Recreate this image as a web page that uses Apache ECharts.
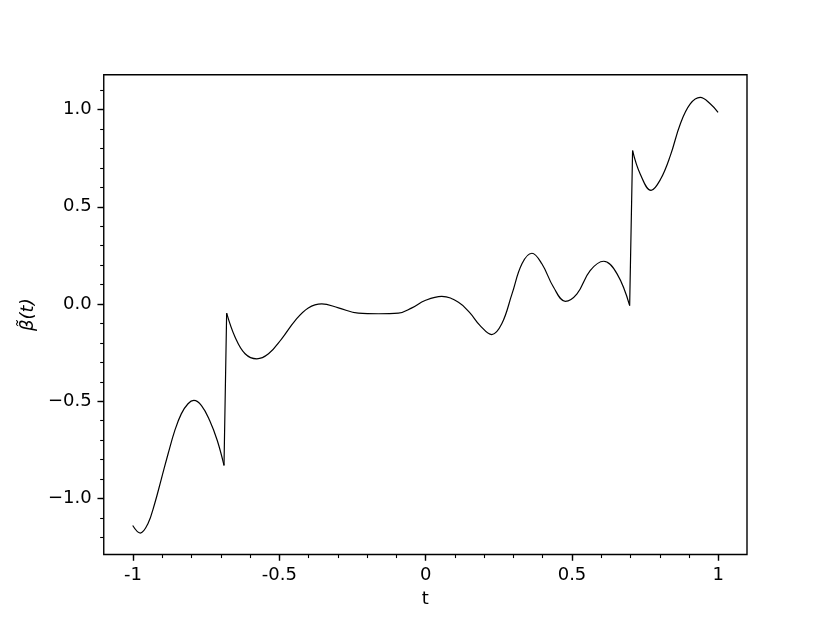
<!DOCTYPE html>
<html>
<head>
<meta charset="utf-8">
<script src="https://cdn.jsdelivr.net/npm/echarts@6/dist/echarts.min.js"></script>
<style>
html,body{margin:0;padding:0;background:#fff;}
#chart{width:830px;height:623px;}
</style>
</head>
<body>
<div id="chart"></div>
<script>
// t values
const tValues = [
  -1.001, -0.975, -0.949, -0.926, -0.903, -0.880, -0.857, -0.835, -0.812, -0.792,
  -0.766, -0.738, -0.712, -0.689, -0.680, -0.651, -0.617, -0.577, -0.537, -0.492,
  -0.446, -0.401, -0.355, -0.298, -0.230, -0.161, -0.093, -0.047, -0.002, 0.055,
  0.112, 0.152, 0.186, 0.226, 0.260, 0.295, 0.329, 0.363, 0.397, 0.437,
  0.477, 0.517, 0.562, 0.608, 0.654, 0.697, 0.707, 0.733, 0.770, 0.802,
  0.836, 0.870, 0.904, 0.938, 0.973, 0.999
];
// beta~(t) values
const betaValues = [
  -1.139, -1.178, -1.130, -1.027, -0.899, -0.770, -0.650, -0.565, -0.513, -0.496,
  -0.522, -0.599, -0.702, -0.830, -0.047, -0.171, -0.256, -0.282, -0.256, -0.179,
  -0.085, -0.020, 0.001, -0.020, -0.047, -0.050, -0.047, -0.020, 0.018, 0.039,
  0.009, -0.047, -0.111, -0.157, -0.102, 0.052, 0.207, 0.261, 0.207, 0.086,
  0.014, 0.052, 0.172, 0.220, 0.155, -0.008, 0.789, 0.669, 0.584, 0.640,
  0.763, 0.926, 1.029, 1.063, 1.029, 0.986
];
// indices where the curve jumps (last point before each jump)
const jumpIndices = [13, 45];

const xTickValues = [-1, -0.5, 0, 0.5, 1];
const xTickLabels = ['-1', '-0.5', '0', '0.5', '1'];
const yTickValues = [-1, -0.5, 0, 0.5, 1];
const yTickLabels = ['\u22121.0', '\u22120.5', '0.0', '0.5', '1.0'];
const xMinorTicks = [-1.0, -0.9, -0.8, -0.7, -0.6, -0.5, -0.4, -0.3, -0.2, -0.1, 0.0, 0.1, 0.2, 0.3, 0.4, 0.5, 0.6, 0.7, 0.8, 0.9, 1.0];
const yMinorTicks = [-1.2, -1.1, -1.0, -0.9, -0.8, -0.7, -0.6, -0.5, -0.4, -0.3, -0.2, -0.1, 0.0, 0.1, 0.2, 0.3, 0.4, 0.5, 0.6, 0.7, 0.8, 0.9, 1.0, 1.1];
const xTitle = 't';
const yTitle = 'β\u0303(t)';

const X_MIN = -1.0999, X_MAX = 1.0979;
const Y_MIN = -1.288, Y_MAX = 1.179;
const FONT = 'DejaVu Sans';

function labelFor(values, labels) {
  return function (v) {
    for (let i = 0; i < values.length; i++) {
      if (Math.abs(values[i] - v) < 1e-9) return labels[i];
    }
    return '';
  };
}

const points = tValues.map((t, i) => [t, betaValues[i]]);
// smooth pieces between jumps
const pieces = [];
let start = 0;
jumpIndices.forEach(j => { pieces.push(points.slice(start, j + 1)); start = j + 1; });
pieces.push(points.slice(start));
// straight jump segments
const jumpData = [];
jumpIndices.forEach((j, k) => {
  if (k > 0) jumpData.push('-');
  jumpData.push(points[j], points[j + 1]);
});

const lineStyle = {color: '#000', width: 1.2};
const series = pieces.map(p => ({
  type: 'line', xAxisIndex: 0, yAxisIndex: 0, data: p,
  showSymbol: false, smooth: 0.4, lineStyle: lineStyle, silent: true
}));
series.push({
  type: 'line', xAxisIndex: 0, yAxisIndex: 0, data: jumpData,
  showSymbol: false, smooth: false, connectNulls: false, lineStyle: lineStyle, silent: true
});

const chart = echarts.init(document.getElementById('chart'), null, {renderer: 'canvas'});
chart.setOption({
  animation: false,
  backgroundColor: '#fff',
  grid: {
    left: 103.75, top: 74.76, width: 643.25, height: 479.7,
    show: true, borderColor: '#000', borderWidth: 1.4, backgroundColor: 'transparent'
  },
  xAxis: [
    {
      type: 'value', min: X_MIN, max: X_MAX, position: 'bottom',
      name: xTitle, nameLocation: 'middle', nameGap: 36,
      nameTextStyle: {fontFamily: FONT, fontSize: 18, color: '#000'},
      axisLine: {show: false, onZero: false},
      splitLine: {show: false},
      axisTick: {show: true, customValues: xTickValues, length: 6.3, inside: false,
        lineStyle: {color: '#000', width: 1.4}},
      axisLabel: {show: true, customValues: xTickValues, formatter: labelFor(xTickValues, xTickLabels),
        margin: 12, fontFamily: FONT, fontSize: 18, color: '#000'}
    },
    {
      type: 'value', min: X_MIN, max: X_MAX, position: 'bottom',
      axisLine: {show: false, onZero: false}, splitLine: {show: false},
      axisTick: {show: true, customValues: xMinorTicks, length: 3.6, inside: false,
        lineStyle: {color: '#000', width: 1.1}},
      axisLabel: {show: false}
    }
  ],
  yAxis: [
    {
      type: 'value', min: Y_MIN, max: Y_MAX, position: 'left',
      name: yTitle, nameLocation: 'middle', nameGap: 58, nameRotate: 90,
      nameTextStyle: {fontFamily: FONT, fontSize: 18, fontStyle: 'italic', color: '#000'},
      axisLine: {show: false, onZero: false},
      splitLine: {show: false},
      axisTick: {show: true, customValues: yTickValues, length: 6.3, inside: false,
        lineStyle: {color: '#000', width: 1.4}},
      axisLabel: {show: true, customValues: yTickValues, formatter: labelFor(yTickValues, yTickLabels),
        margin: 12, fontFamily: FONT, fontSize: 18, color: '#000'}
    },
    {
      type: 'value', min: Y_MIN, max: Y_MAX, position: 'left',
      axisLine: {show: false, onZero: false}, splitLine: {show: false},
      axisTick: {show: true, customValues: yMinorTicks, length: 3.6, inside: false,
        lineStyle: {color: '#000', width: 1.1}},
      axisLabel: {show: false}
    }
  ],
  series: series
});
</script>
</body>
</html>
